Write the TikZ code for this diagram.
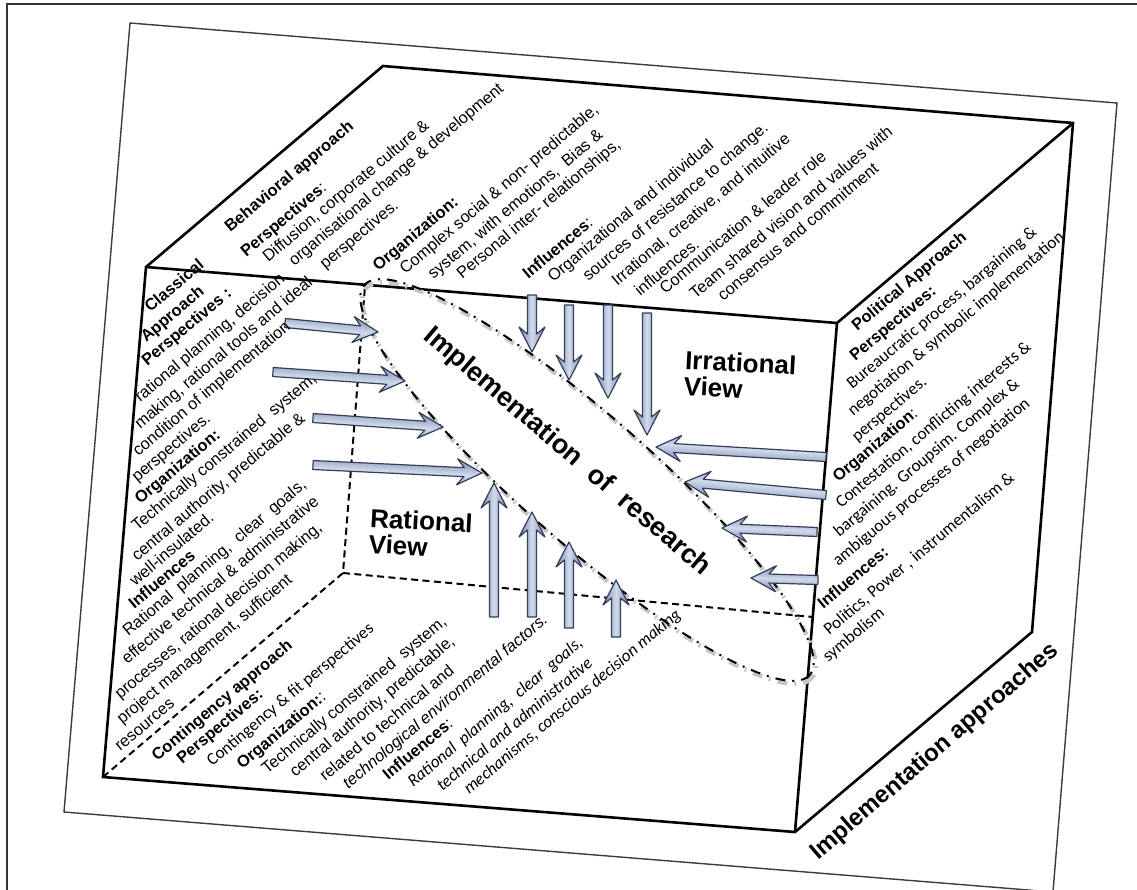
\documentclass[tikz,border=0pt]{standalone}
\usepackage{fontspec}
\setmainfont{Liberation Sans}
\newfontfamily\calfont{Carlito}
\newcommand{\calsmall}{\calfont\fontsize{8.6}{9}\selectfont}

\definecolor{arrowedge}{RGB}{118,134,170}
\definecolor{arrowmid}{RGB}{208,218,236}
\definecolor{arrowline}{RGB}{52,62,88}
\definecolor{paperline}{RGB}{60,60,60}

\tikzset{
  cubeedge/.style={line width=1.3pt, line join=miter},
  hiddenedge/.style={line width=1pt, dash pattern=on 3.5pt off 2.2pt},
  face/.style={rotate=40, anchor=base west, inner sep=0pt, font=\fontsize{8.2}{9}\selectfont},
  viewlabel/.style={align=left, anchor=base west, inner sep=0pt, rotate=-3, font=\bfseries\fontsize{13}{13}\selectfont},
  blockarrow/.style={draw=arrowline, line width=0.6pt, line join=round,
    top color=arrowedge, bottom color=arrowedge, middle color=arrowmid},
  implpath/.style={line width=1pt, dash pattern=on 5pt off 3.5pt on 1pt off 3.5pt},
}

% fat block arrow from tail (#1,#2) to tip (#3,#4)
\newcommand{\fatarrow}[4]{%
  \pgfmathsetmacro{\arrlen}{veclen(#3-#1,#4-#2)}%
  \pgfmathsetmacro{\arrang}{atan2(#2-#4,#3-#1)}%
  \begin{scope}[shift={(#1,#2)}, rotate=\arrang]
    \shadedraw[blockarrow, shading angle=\arrang] (0,-4.5) -- ({\arrlen-18},-4.5) -- ({\arrlen-25},-13) -- (\arrlen,0)
      -- ({\arrlen-25},13) -- ({\arrlen-18},4.5) -- (0,4.5) -- cycle;
  \end{scope}}

\begin{document}
\begin{tikzpicture}[x=0.5pt,y=-0.5pt]
\useasboundingbox (0,0) rectangle (1137,890);

% frame and tilted sheet
\draw [line width=1.2pt, black!80] (7,890) -- (7,4) -- (1137,4);
\draw [line width=0.7pt, paperline] (130,23) -- (1117,103) -- (1053,892) -- (64,812) -- cycle;

% cube corners
\coordinate (F1) at (146,267);
\coordinate (F2) at (837,323);
\coordinate (F3) at (795,832);
\coordinate (F4) at (103,777);
\coordinate (B1) at (383,66);
\coordinate (B2) at (1073,123);
\coordinate (B3) at (1032,632);
\coordinate (B4) at (343,573);
\coordinate (H1) at (365,286);
\coordinate (H2) at (813,617);

\draw [cubeedge] (F1) -- (B1) -- (B2) -- (B3) -- (F3) -- (F4) -- cycle;
\draw [cubeedge] (F1) -- (F2) -- (F3);
\draw [cubeedge] (F2) -- (B2);
\draw [hiddenedge] (F4) -- (B4) -- (H1);
\draw [hiddenedge] (B4) -- (H2);

% implementation ellipse
\draw [implpath, gray!45, line width=2.2pt, rotate around={-41.2:(589,483)}] (589,483) ellipse [x radius=296, y radius=64];
\draw [implpath, rotate around={-41.2:(587,480)}] (587,480) ellipse [x radius=296, y radius=64];

% arrows from the left
\fatarrow{285}{323}{378}{332}
\fatarrow{273}{372}{405}{381}
\fatarrow{313}{418}{443}{427}
\fatarrow{313}{465}{482}{473}
% arrows from the top
\fatarrow{532}{295}{532}{352}
\fatarrow{569}{305}{569}{380}
\fatarrow{608}{305}{608}{398}
\fatarrow{647}{313}{647}{435}
% arrows from the right
\fatarrow{826}{457}{656}{447}
\fatarrow{826}{495}{685}{482}
\fatarrow{817}{532}{722}{528}
\fatarrow{818}{580}{751}{578}
% arrows from below
\fatarrow{494}{617}{494}{483}
\fatarrow{532}{617}{532}{512}
\fatarrow{569}{628}{569}{542}
\fatarrow{616}{637}{616}{580}

% labels
\node [rotate=-40.4, inner sep=0pt, font=\bfseries\fontsize{13.5}{14}\selectfont] (impl) at (567,452) {Implementation\ \ of\ \ research};
\node [viewlabel] (irr) at (683,395) {Irrational\\View};
\node [viewlabel] (rat) at (368,553) {Rational\\View};
\node [rotate=40.7, inner sep=0pt, font=\bfseries\fontsize{12}{12}\selectfont] (appr) at (935,752) {Implementation approaches};

% top face: behavioral approach
\foreach \x/\y/\txt [count=\i] in {
  230/233/{\textbf{Behavioral approach}},
  246/258/{\textbf{Perspectives}:},
  268/263/{Diffusion, corporate culture \&},
  294/267/{organisational change \& development},
  325/270/{perspectives.},
  378/272/{\textbf{Organization:}},
  405/275/{Complex social \& non- predictable,},
  433/280/{system, with emotions,\ \ Bias \&},
  462/280/{Personal inter- relationships,},
  528/280/{\textbf{Influences}:},
  553/283/{Organizational and individual},
  588/282/{sources of resistance to change.},
  617/287/{Irrational, creative, and intuitive},
  640/297/{influences.},
  665/295/{Communication \& leader role},
  695/300/{Team shared vision and values with},
  723/302/{consensus and commitment}}
  \node [face] (beh\i) at (\x,\y) {\txt};

% left face: classical approach
\foreach \x/\y/\txt [count=\i] in {
  150/313/{\textbf{Classical}},
  146/343/{\textbf{Approach}},
  147/367/{\textbf{Perspectives :}},
  140/403/{rational planning, decision},
  140/430/{making, rational tools and ideal},
  138/457/{condition of implementation},
  137/483/{perspectives.},
  140/505/{\textbf{Organization:}},
  137/532/{Technically constrained\ \ system,},
  137/562/{central authority, predictable \&},
  135/587/{well-insulated.},
  134/610/{\textbf{Influences}},
  128/637/{Rational\ \ planning,\ \ clear\ \ goals,},
  127/665/{effective technical \& administrative},
  120/700/{processes, rational decision making,},
  122/725/{project management, sufficient},
  120/752/{resources}}
  \node [face] (cla\i) at (\x,\y) {\txt};

% right face: political approach
\foreach \x/\y/\txt [count=\i] in {
  857/332/{\textbf{Political Approach}},
  855/362/{\textbf{Perspectives:}},
  852/390/{\calsmall Bureaucratic process, bargaining \&},
  853/417/{\calsmall negotiation \& symbolic implementation},
  857/443/{\calsmall perspectives.},
  838/483/{\textbf{Organization}:},
  841/509/{\calsmall Contestation, conflicting interests \&},
  839/538/{\calsmall bargaining. Groupsim. Complex \&},
  838/567/{\calsmall ambiguous processes of negotiation},
  823/610/{\textbf{Influences:}},
  829/636/{\calsmall Politics, Power , instrumentalism \&},
  828/663/{\calsmall symbolism}}
  \node [face] (pol\i) at (\x,\y) {\txt};

% bottom face: contingency approach
\foreach \x/\y/\txt [count=\i] in {
  157/762/{\textbf{Contingency approach}},
  182/765/{\textbf{Perspectives:}},
  212/767/{\calsmall Contingency \& fit perspectives},
  242/770/{\textbf{Organization:}:},
  267/775/{Technically constrained\ \ system,},
  295/778/{central authority, predictable,},
  325/782/{related to technical and},
  348/790/{\itshape technological environmental factors.},
  388/781/{\textbf{Influences}:},
  413/788/{\calsmall\itshape Rational\ \ planning,\ \ clear\ \ goals,},
  442/792/{\calsmall\itshape technical and administrative},
  469/795/{\calsmall\itshape mechanisms, conscious decision making}}
  \node [face] (con\i) at (\x,\y) {\txt};

\end{tikzpicture}
\end{document}
